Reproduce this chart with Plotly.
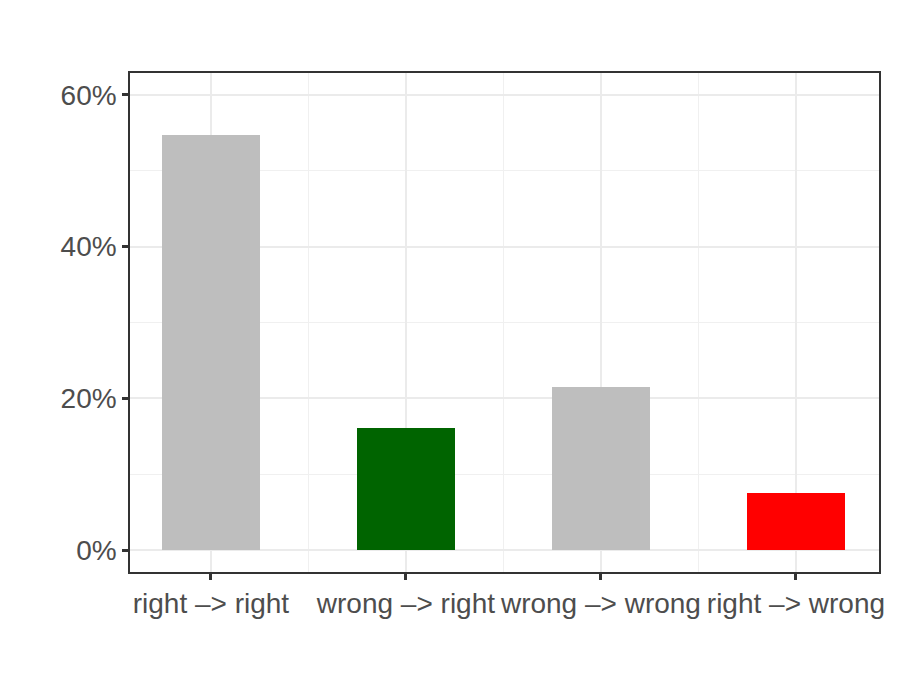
import plotly.graph_objects as go

# transition categories and share of answers (percent)
categories = ["right -> right", "wrong -> right", "wrong -> wrong", "right -> wrong"]
shares = [54.7, 16.1, 21.5, 7.5]
bar_colors = ["#BEBEBE", "#006400", "#BEBEBE", "#FF0000"]
y_ticks = [0, 20, 40, 60]

positions = list(range(len(categories)))

fig = go.Figure()
fig.add_trace(go.Bar(
    x=positions,
    y=shares,
    width=0.5,
    marker=dict(color=bar_colors, line=dict(width=0)),
    showlegend=False,
))

axis_font = dict(family="Liberation Sans, Arial, sans-serif", size=28, color="#4D4D4D")

fig.update_layout(
    width=889, height=665,
    margin=dict(l=122, r=18, t=65, b=101),
    plot_bgcolor="white",
    paper_bgcolor="white",
    bargap=0,
    xaxis=dict(
        range=[-0.415, 3.426],
        tickvals=positions,
        ticktext=[c.replace("->", "–>") for c in categories],
        tickfont=axis_font,
        ticks="outside", ticklen=6, tickwidth=2.5, tickcolor="#333333",
        showgrid=True, gridcolor="#EBEBEB", gridwidth=2,
        minor=dict(tickvals=[0.5, 1.5, 2.5], showgrid=True, gridcolor="#F0F0F0", gridwidth=1, ticks=""),
        showline=True, mirror=True, linecolor="#333333", linewidth=1.5,
        zeroline=False,
    ),
    yaxis=dict(
        range=[-2.9, 62.9],
        tickvals=y_ticks,
        ticktext=[f"{v}%" for v in y_ticks],
        tickfont=axis_font,
        ticks="outside", ticklen=6, tickwidth=2.5, tickcolor="#333333",
        showgrid=True, gridcolor="#EBEBEB", gridwidth=2,
        minor=dict(tickvals=[10, 30, 50], showgrid=True, gridcolor="#F0F0F0", gridwidth=1, ticks=""),
        showline=True, mirror=True, linecolor="#333333", linewidth=1.5,
        zeroline=False,
    ),
)

fig.write_html("out.html")
